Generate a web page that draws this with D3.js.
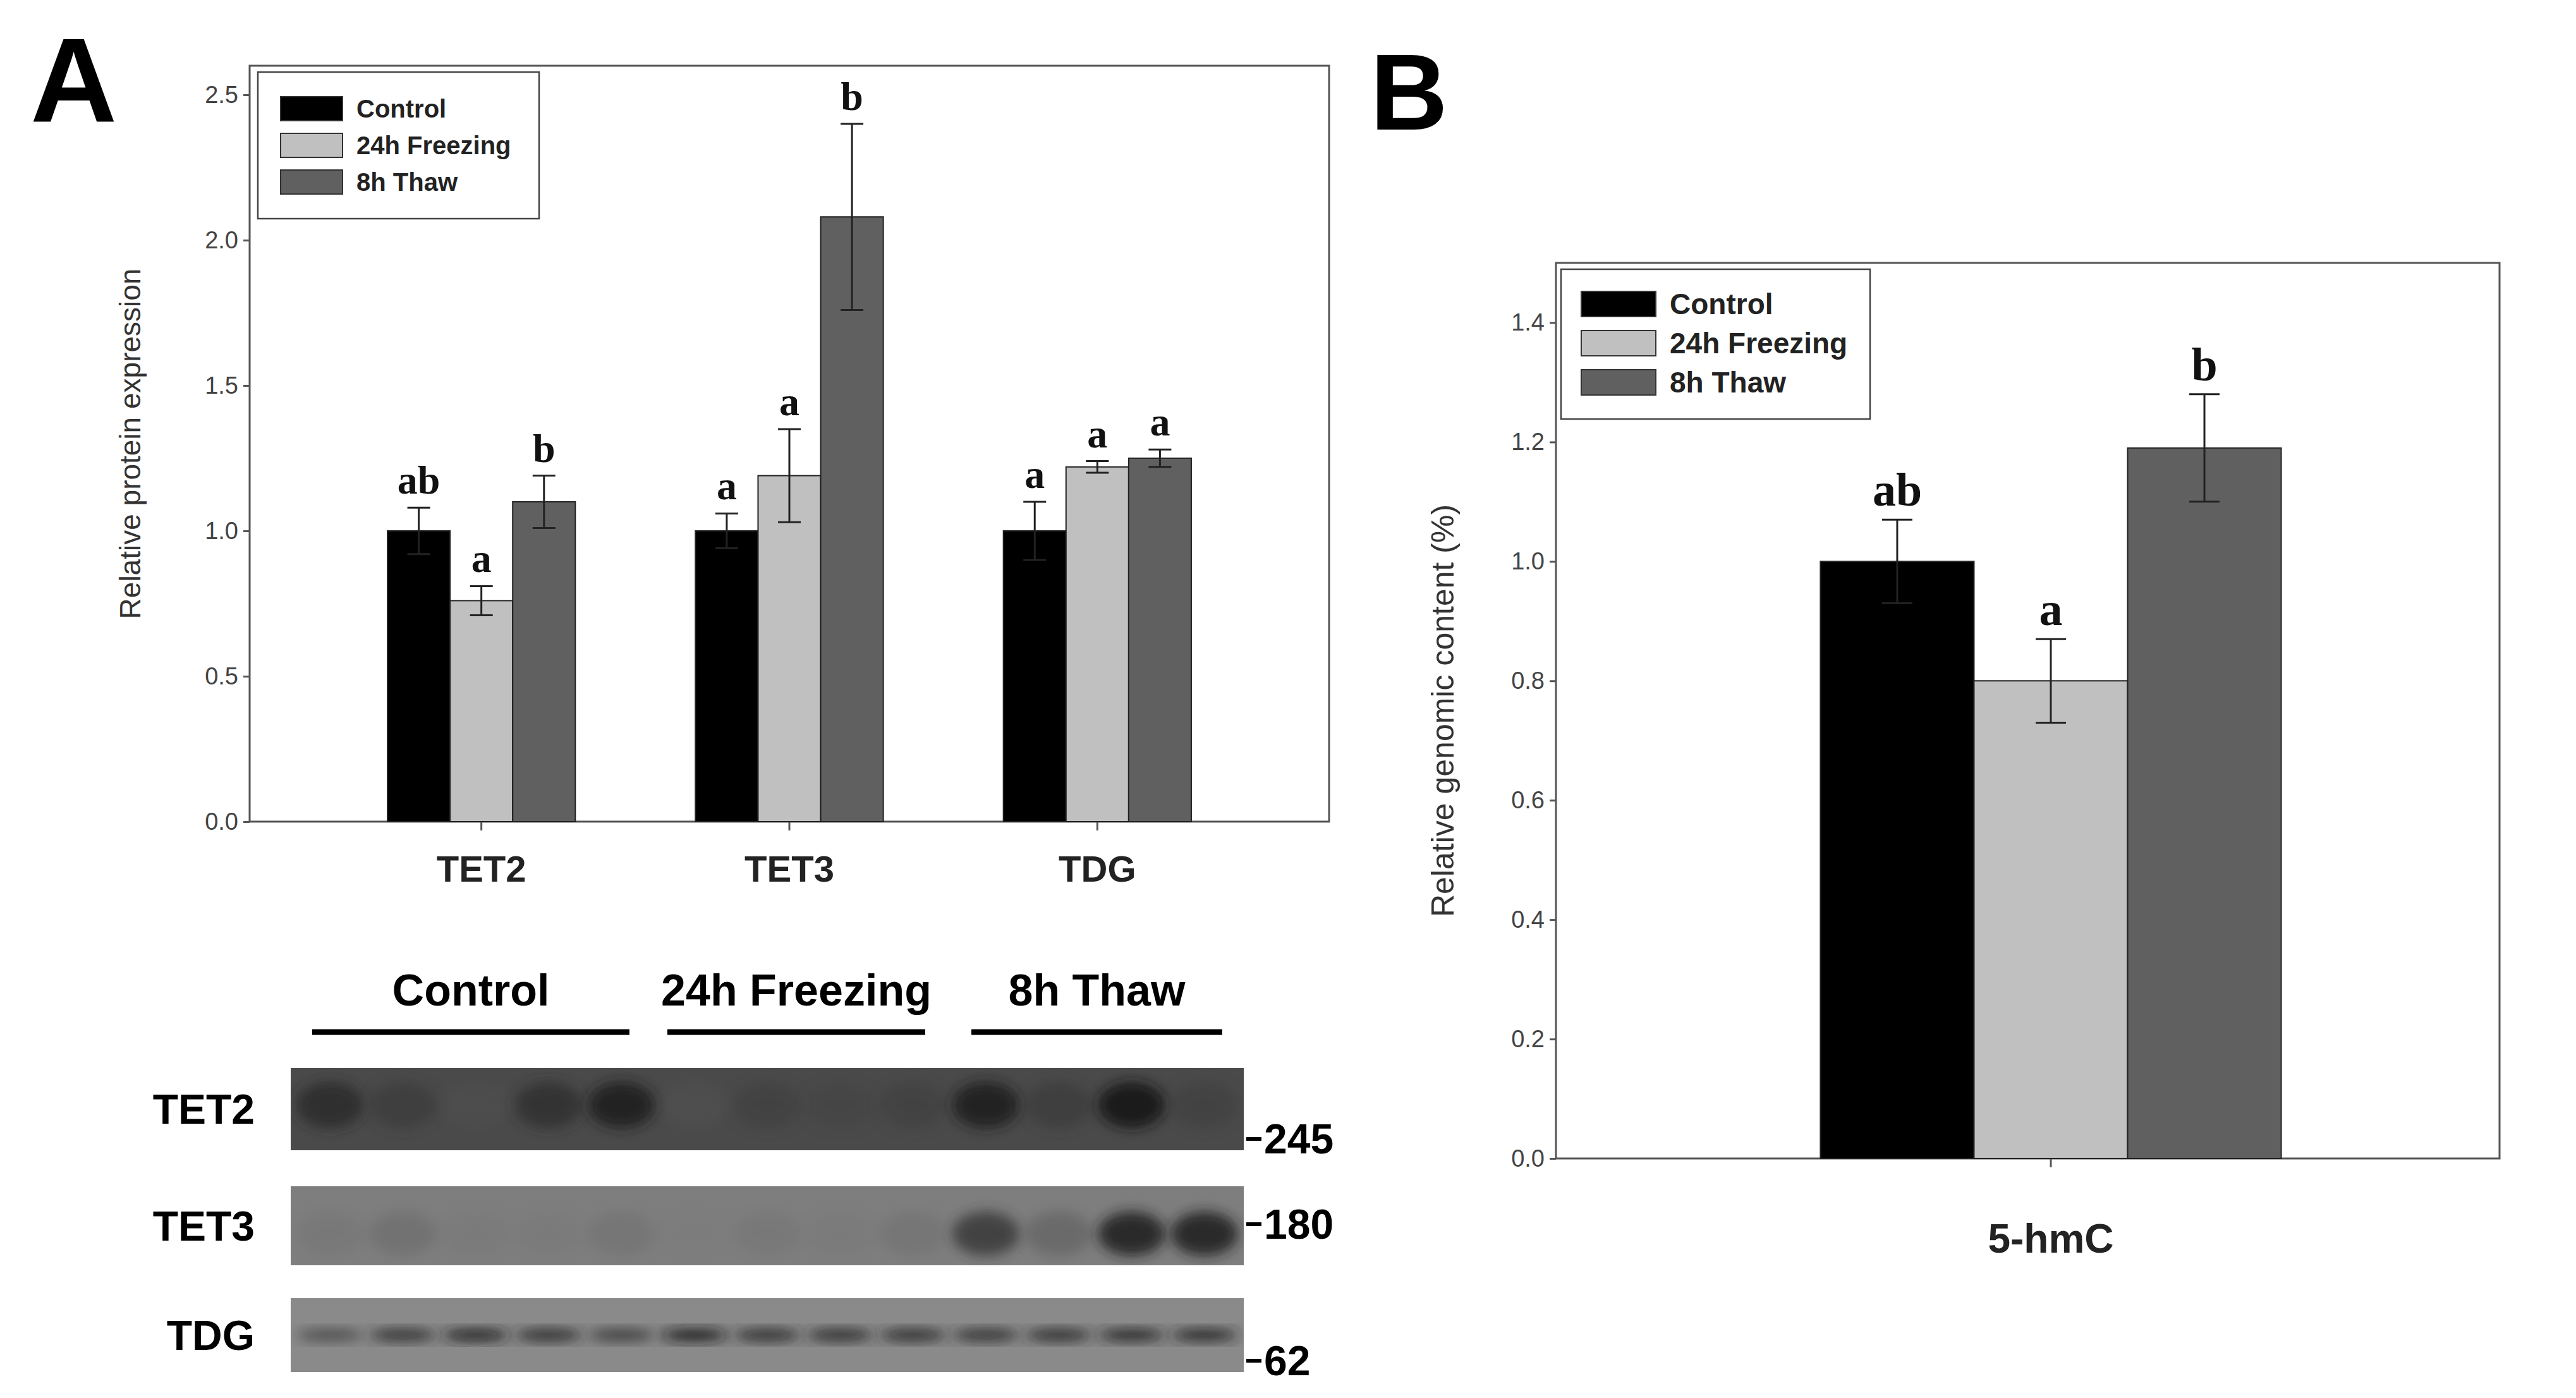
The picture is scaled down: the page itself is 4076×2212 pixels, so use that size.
<!DOCTYPE html>
<html>
<head>
<meta charset="utf-8">
<script src="https://cdn.jsdelivr.net/npm/d3@7"></script>
<style>
  body { margin: 0; background: #fff; }
  svg { display: block; }
</style>
</head>
<body>
<svg id="fig" width="4076" height="2212"></svg>
<script>
// panel A data
const proteins = ["TET2", "TET3", "TDG"];
const groups = ["Control", "24h Freezing", "8h Thaw"];
const colors = ["#000000", "#c0c0c0", "#606060"];
const aValues = [[1.00, 0.76, 1.10], [1.00, 1.19, 2.08], [1.00, 1.22, 1.25]];
const aErrors = [[0.08, 0.05, 0.09], [0.06, 0.16, 0.32], [0.10, 0.02, 0.03]];
const aLetters = [["ab", "a", "b"], ["a", "a", "b"], ["a", "a", "a"]];
const aTicks = [0, 0.5, 1.0, 1.5, 2.0, 2.5];

// panel B data
const bCategory = ["5-hmC"];
const bValues = [1.00, 0.80, 1.19];
const bErrors = [0.07, 0.07, 0.09];
const bLetters = ["ab", "a", "b"];
const bTicks = [0, 0.2, 0.4, 0.6, 0.8, 1.0, 1.2, 1.4];

// blot lanes (relative band darkness, 0..1)
const blotRows = ["TET2", "TET3", "TDG"];
const blotMarkers = ["245", "180", "62"];
const laneGroups = [5, 4, 4];
const blotBands = [
  [0.75, 0.6, 0.35, 0.7, 0.85, 0.3, 0.55, 0.5, 0.55, 0.85, 0.6, 0.9, 0.55],
  [0.2, 0.3, 0.15, 0.15, 0.25, 0.1, 0.2, 0.15, 0.25, 0.7, 0.4, 0.85, 0.85],
  [0.45, 0.7, 0.85, 0.75, 0.6, 0.9, 0.75, 0.75, 0.75, 0.7, 0.75, 0.8, 0.8]
];

const svg = d3.select("#fig");
const axisFont = "Liberation Sans, Arial, sans-serif";
const narrow = "Liberation Sans Narrow, Liberation Sans, sans-serif";
const serif = "Liberation Serif, Times New Roman, serif";

function barPanel(opt) {
  const g = svg.append("g");
  const y = d3.scaleLinear().domain(opt.domain).range([opt.bottom, opt.top]);
  const x = d3.scaleBand().domain(opt.cats).range(opt.xr).paddingInner(opt.pad).paddingOuter(opt.pad / 2);
  const sub = d3.scaleBand().domain(groups).range([0, x.bandwidth()]);

  g.append("rect").attr("x", opt.left).attr("y", opt.top)
    .attr("width", opt.right - opt.left).attr("height", opt.bottom - opt.top)
    .attr("fill", "none").attr("stroke", "#555").attr("stroke-width", 3);

  const yAxis = g.append("g").attr("transform", `translate(${opt.left},0)`)
    .call(d3.axisLeft(y).tickValues(opt.ticks).tickFormat(d3.format(".1f")).tickSize(10).tickPadding(8));
  yAxis.select(".domain").remove();
  yAxis.selectAll("line").attr("stroke", "#555").attr("stroke-width", 3);
  yAxis.selectAll("text").attr("font-family", axisFont).attr("font-size", opt.tickSize).attr("fill", "#444");

  const xAxis = g.append("g").attr("transform", `translate(0,${opt.bottom})`)
    .call(d3.axisBottom(x).tickSize(14).tickPadding(opt.catPad));
  xAxis.select(".domain").remove();
  xAxis.selectAll("line").attr("stroke", "#555").attr("stroke-width", 3);
  xAxis.selectAll("text").attr("font-family", axisFont).attr("font-weight", "bold")
    .attr("font-size", opt.catSize).attr("fill", "#222");

  opt.cats.forEach((c, ci) => {
    groups.forEach((grp, gi) => {
      const v = opt.values[ci][gi], e = opt.errors[ci][gi];
      const bx = x(c) + sub(grp), bw = sub.bandwidth(), cx = bx + bw / 2;
      g.append("rect").attr("x", bx).attr("y", y(v)).attr("width", bw).attr("height", y(0) - y(v))
        .attr("fill", colors[gi]).attr("stroke", "#222").attr("stroke-width", 2);
      g.append("line").attr("x1", cx).attr("x2", cx).attr("y1", y(v - e)).attr("y2", y(v + e))
        .attr("stroke", "#222").attr("stroke-width", 3);
      [v - e, v + e].forEach(t => g.append("line").attr("x1", cx - opt.cap).attr("x2", cx + opt.cap)
        .attr("y1", y(t)).attr("y2", y(t)).attr("stroke", "#222").attr("stroke-width", 3));
      g.append("text").attr("x", cx).attr("y", y(v + e) - 22).attr("text-anchor", "middle")
        .attr("font-family", serif).attr("font-weight", "bold").attr("font-size", opt.letterSize)
        .attr("fill", "#111").text(opt.letters[ci][gi]);
    });
  });

  g.append("text").attr("transform", `translate(${opt.ylabX},${(opt.top + opt.bottom) / 2}) rotate(-90)`)
    .attr("text-anchor", "middle").attr("font-family", axisFont).attr("font-size", opt.ylabSize)
    .attr("fill", "#333").text(opt.ylab);

  // legend
  const L = opt.legend;
  g.append("rect").attr("x", L.x).attr("y", L.y).attr("width", L.w).attr("height", L.h)
    .attr("fill", "#fff").attr("stroke", "#444").attr("stroke-width", 2.5);
  groups.forEach((grp, i) => {
    const ly = L.y + L.first + i * L.step;
    g.append("rect").attr("x", L.x + L.sx).attr("y", ly - L.sh / 2).attr("width", L.sw).attr("height", L.sh)
      .attr("fill", colors[i]).attr("stroke", "#333").attr("stroke-width", 2);
    g.append("text").attr("x", L.x + L.sx + L.sw + 22).attr("y", ly).attr("dy", "0.35em")
      .attr("font-family", L.font).attr("font-weight", "bold").attr("font-size", L.size)
      .attr("fill", "#222").text(grp);
  });
}

barPanel({
  cats: proteins, values: aValues, errors: aErrors, letters: aLetters,
  domain: [0, 2.6], ticks: aTicks, top: 104, bottom: 1300, left: 395, right: 2103,
  xr: [518, 1980], pad: 0.39, cap: 18, tickSize: 38, catSize: 58, catPad: 40, letterSize: 64,
  ylab: "Relative protein expression", ylabX: 222, ylabSize: 46,
  legend: { x: 408, y: 114, w: 445, h: 232, first: 58, step: 58, sx: 36, sw: 98, sh: 38,
            size: 40, font: narrow }
});

barPanel({
  cats: bCategory, values: [bValues], errors: [bErrors], letters: [bLetters],
  domain: [0, 1.5], ticks: bTicks, top: 416, bottom: 1833, left: 2462, right: 3955,
  xr: [2881 - 8, 3609 + 8], pad: 0.02, cap: 24, tickSize: 38, catSize: 64, catPad: 90, letterSize: 74,
  ylab: "Relative genomic content (%)", ylabX: 2300, ylabSize: 50,
  legend: { x: 2470, y: 426, w: 489, h: 237, first: 55, step: 62, sx: 32, sw: 118, sh: 40,
            size: 46, font: axisFont }
});

// panel letters
svg.append("text").attr("x", 48).attr("y", 192).attr("font-family", narrow).attr("font-weight", "bold")
  .attr("font-size", 190).text("A");
svg.append("text").attr("x", 2168).attr("y", 205).attr("font-family", axisFont).attr("font-weight", "bold")
  .attr("font-size", 170).text("B");

// western blot
const blot = svg.append("g");
const nLanes = blotBands[0].length;
const lane = d3.scaleBand().domain(d3.range(nLanes)).range([460, 1968]).padding(0.08);
const rowY = [[1690, 1820], [1877, 2002], [2054, 2171]];
const bandYs = [0.45, 0.6, 0.5];
const shade = d3.scaleLinear().domain([0, 1]).range(["#7a7a7a", "#0a0a0a"]);
const defs = svg.append("defs");
const blur = defs.append("filter").attr("id", "blur").attr("x", "-50%").attr("y", "-50%")
  .attr("width", "200%").attr("height", "200%");
blur.append("feGaussianBlur").attr("stdDeviation", 10);

const bgCols = ["#4a4a4a", "#7e7e7e", "#8a8a8a"];
const clipIds = rowY.map((r, i) => {
  defs.append("clipPath").attr("id", "clip" + i).append("rect")
    .attr("x", 460).attr("y", r[0]).attr("width", 1508).attr("height", r[1] - r[0]);
  return "url(#clip" + i + ")";
});
blotRows.forEach((name, ri) => {
  const [y0, y1] = rowY[ri];
  blot.append("rect").attr("x", 460).attr("y", y0).attr("width", 1508).attr("height", y1 - y0)
    .attr("fill", bgCols[ri]);
  const gb = blot.append("g").attr("clip-path", clipIds[ri]);
  blotBands[ri].forEach((d, li) => {
    const cy = y0 + (y1 - y0) * bandYs[ri];
    gb.append("ellipse").attr("cx", lane(li) + lane.bandwidth() / 2).attr("cy", cy)
      .attr("rx", lane.bandwidth() / 2).attr("ry", ri === 2 ? 9 : (y1 - y0) * 0.28)
      .attr("fill", shade(d)).attr("opacity", ri === 2 ? 1 : d)
      .attr("filter", "url(#blur)");
  });
  blot.append("text").attr("x", 403).attr("y", (y0 + y1) / 2).attr("dy", "0.35em").attr("text-anchor", "end")
    .attr("font-family", narrow).attr("font-weight", "bold").attr("font-size", 66).text(name);
  const my = [1802, 1937, 2153][ri];
  blot.append("line").attr("x1", 1972).attr("x2", 1996).attr("y1", my).attr("y2", my)
    .attr("stroke", "#000").attr("stroke-width", 6);
  blot.append("text").attr("x", 2000).attr("y", my).attr("dy", "0.35em")
    .attr("font-family", narrow).attr("font-weight", "bold").attr("font-size", 66).text(blotMarkers[ri]);
});

// group labels and lines over lanes
const groupSpans = [[494, 996], [1056, 1464], [1537, 1934]];
groups.forEach((grp, i) => {
  const [a, b] = groupSpans[i];
  blot.append("line").attr("x1", a).attr("x2", b).attr("y1", 1633).attr("y2", 1633)
    .attr("stroke", "#000").attr("stroke-width", 9);
  blot.append("text").attr("x", (a + b) / 2).attr("y", 1591).attr("text-anchor", "middle")
    .attr("font-family", narrow).attr("font-weight", "bold").attr("font-size", 70).text(grp);
});
</script>
</body>
</html>
